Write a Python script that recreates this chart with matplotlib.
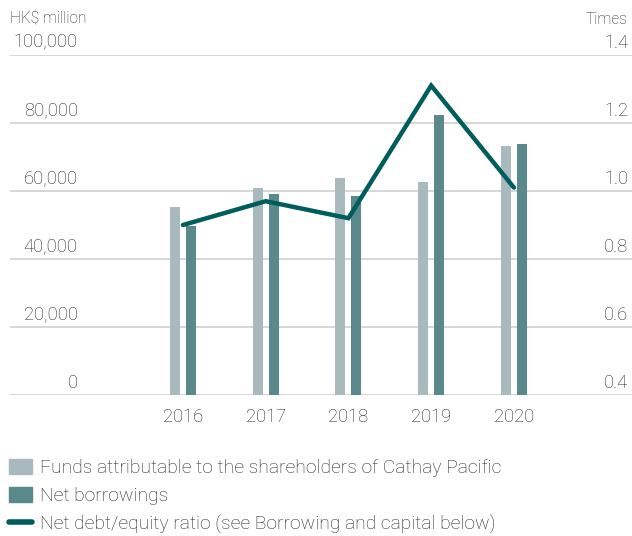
import matplotlib.pyplot as plt
from matplotlib.patches import Patch
from matplotlib.lines import Line2D
import numpy as np

plt.rcParams['font.family'] = ['Roboto', 'DejaVu Sans']
plt.rcParams['font.weight'] = 'light'

# data
years = ['2016', '2017', '2018', '2019', '2020']
funds = [55300, 60900, 63800, 62600, 73200]          # HK$ million
net_borrowings = [49800, 59100, 58500, 82400, 73800]  # HK$ million
debt_equity = [0.90, 0.97, 0.92, 1.31, 1.01]          # times
left_ticks = [0, 20000, 40000, 60000, 80000, 100000]
right_ticks = [0.4, 0.6, 0.8, 1.0, 1.2, 1.4]

c_light = '#a8babd'
c_dark = '#5a898b'
c_line = '#005d5e'
c_grid = '#d3d3d3'
c_text = '#262626'

fig = plt.figure(figsize=(6.32, 5.36), dpi=100)
ax = fig.add_axes([10 / 632, 1 - 395 / 536, 622 / 632, 340 / 536])

x = np.arange(len(years))
bw = 0.121
ax.bar(x - 0.097, funds, width=bw, color=c_light, zorder=2)
ax.bar(x + 0.097, net_borrowings, width=bw, color=c_dark, zorder=2)

ax.set_xlim(-2.09, 5.427)
ax.set_ylim(0, 100000)
ax.set_yticks(left_ticks)
ax.yaxis.grid(True, color=c_grid, linewidth=1.3, zorder=0)
ax.tick_params(axis='y', length=0, labelleft=False)
ax.set_xticks(x)
ax.set_xticklabels(years, fontsize=13.2, color=c_text)
ax.tick_params(axis='x', length=0, pad=9)
for s in ax.spines.values():
    s.set_visible(False)

ytr = ax.get_yaxis_transform()
for v in left_ticks:
    ax.annotate(f'{v:,}', xy=(0.109, v), xycoords=ytr, xytext=(0, 2.5),
                textcoords='offset points', ha='right', va='bottom',
                fontsize=13.2, color=c_text)

ax2 = ax.twinx()
ax2.set_ylim(0.4, 1.4)
ax2.set_yticks([])
for s in ax2.spines.values():
    s.set_visible(False)
ax2.plot(x, debt_equity, color=c_line, linewidth=3.2, solid_capstyle='round',
         solid_joinstyle='miter', zorder=3)
ytr2 = ax2.get_yaxis_transform()
for v in right_ticks:
    ax2.annotate(f'{v:.1f}', xy=(0.9936, v), xycoords=ytr2, xytext=(0, 2.5),
                 textcoords='offset points', ha='right', va='bottom',
                 fontsize=13.2, color=c_text)

fig.text(10 / 632, 1 - 19 / 536, 'HK$ million', fontsize=11.2, color=c_text,
         ha='left', va='center')
fig.text(628 / 632, 1 - 19 / 536, 'Times', fontsize=11.2, color=c_text,
         ha='right', va='center')

handles = [Patch(color=c_light), Patch(color=c_dark),
           Line2D([], [], color=c_line, linewidth=4, solid_capstyle='round')]
labels = ['Funds attributable to the shareholders of Cathay Pacific',
          'Net borrowings',
          'Net debt/equity ratio (see Borrowing and capital below)']
fig.legend(handles, labels, loc='upper left',
           bbox_to_anchor=(3 / 632, 1 - 453 / 536),
           frameon=False, fontsize=13.9, handlelength=1.2, handleheight=0.85,
           handletextpad=0.4, labelspacing=0.5, borderaxespad=0, borderpad=0.3,
           labelcolor=c_text)

fig.savefig('out.png', dpi=100)
